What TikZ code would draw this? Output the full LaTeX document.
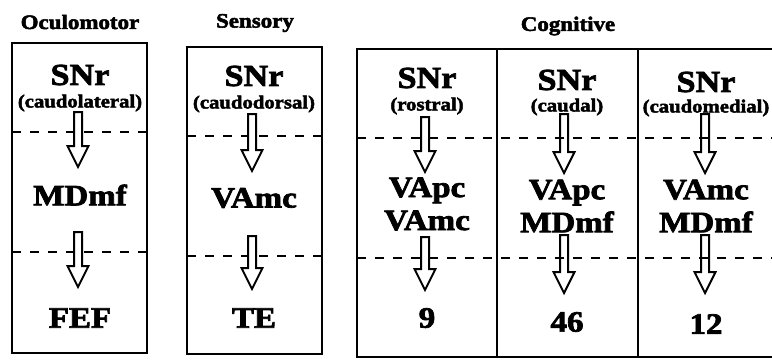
\documentclass[tikz,border=0pt]{standalone}
\usepackage{fontspec}
\setmainfont{Liberation Serif}[FakeStretch=1.12, BoldFeatures={FakeBold=2.5}]
\usetikzlibrary{calc}
\tikzset{
  frame/.style={line width=2.6pt},
  divider/.style={line width=2.2pt},
  sepline/.style={dash pattern=on 9pt off 9pt, line width=1.8pt},
  title/.style={font=\bfseries\fontsize{20.5}{22}\selectfont, inner sep=0},
  snr/.style={font=\bfseries\fontsize{30.5}{32}\selectfont, inner sep=0},
  sub/.style={font=\bfseries\fontsize{18.5}{20}\selectfont, inner sep=0},
  region/.style={font=\bfseries\fontsize{29.5}{33}\selectfont, align=center, inner sep=0},
  hollow/.style={line width=2pt, fill=white, line join=miter},
}
\newcommand\blockarrow[2]{%
  \draw[hollow] ($(#1)+(-4,0)$) -- ($(#2)+(-4,-21)$) -- ($(#2)+(-10.5,-21)$) -- (#2)
    -- ($(#2)+(10.5,-21)$) -- ($(#2)+(4,-21)$) -- ($(#1)+(4,0)$) -- cycle;}
\begin{document}
\begin{tikzpicture}[x=1pt,y=-1pt]
\useasboundingbox[fill=white] (0,0) rectangle (772,360);

% titles
\node[title] (t1) at (80,22) {Oculomotor};
\node[title] (t2) at (255,23) {Sensory};
\node[title] (t3) at (568,26) {Cognitive};

% frames
\draw[frame] (12,43) rectangle (147,353);
\draw[frame] (187,47) rectangle (322,354);
\draw[frame] (357,49) rectangle (790,357);
\draw[divider] (497,49) -- (497,357);
\draw[divider] (638,49) -- (638,357);

% arrow coordinates
\coordinate (a1s) at (78,112);  \coordinate (a1e) at (78,167);
\coordinate (a2s) at (78,232);  \coordinate (a2e) at (78,287);
\coordinate (b1s) at (252,114); \coordinate (b1e) at (252,171);
\coordinate (b2s) at (252,236); \coordinate (b2e) at (252,289);
\coordinate (c1s) at (425,117); \coordinate (c1e) at (425,172);
\coordinate (c2s) at (425,237); \coordinate (c2e) at (425,290);
\coordinate (d1s) at (564,114); \coordinate (d1e) at (564,173);
\coordinate (d2s) at (564,235); \coordinate (d2e) at (564,293);
\coordinate (e1s) at (705,114); \coordinate (e1e) at (705,173);
\coordinate (e2s) at (705,235); \coordinate (e2e) at (705,293);

% cognitive arrows crossed by the dashed lines
\blockarrow{d1s}{d1e}
\blockarrow{d2s}{d2e}
\blockarrow{e1s}{e1e}
\blockarrow{e2s}{e2e}

% dashed separators
\draw[sepline] (12,132) -- (147,132);
\draw[sepline] (12,252) -- (147,252);
\draw[sepline] (187,136) -- (322,136);
\draw[sepline] (187,256) -- (322,256);
\draw[sepline] (357,138) -- (772,138);
\draw[sepline] (357,258) -- (772,258);

\blockarrow{a1s}{a1e}
\blockarrow{a2s}{a2e}
\blockarrow{b1s}{b1e}
\blockarrow{b2s}{b2e}
\blockarrow{c1s}{c1e}
\blockarrow{c2s}{c2e}

% Oculomotor
\node[snr] (s1) at (80,75) {SNr};
\node[sub] (q1) at (80,103) {(caudolateral)};
\node[region] (m1) at (80,195) {MDmf};
\node[region] (f1) at (80,318) {FEF};

% Sensory
\node[snr] (s2) at (254,76) {SNr};
\node[sub] (q2) at (254,104) {(caudodorsal)};
\node[region] (m2) at (254,198) {VAmc};
\node[region] (f2) at (254,318) {TE};

% Cognitive 1
\node[snr] (s3) at (427,78) {SNr};
\node[sub] (q3) at (427,106) {(rostral)};
\node[region] (m3) at (427,204) {VApc\\VAmc};
\node[region] (f3) at (427,318) {9};

% Cognitive 2
\node[snr] (s4) at (567,80) {SNr};
\node[sub] (q4) at (567,107) {(caudal)};
\node[region] (m4) at (567,206) {VApc\\MDmf};
\node[region] (f4) at (567,322) {46};

% Cognitive 3
\node[snr] (s5) at (706,82) {SNr};
\node[sub] (q5) at (706,108) {(caudomedial)};
\node[region] (m5) at (706,206) {VAmc\\MDmf};
\node[region] (f5) at (706,324) {12};
\end{tikzpicture}
\end{document}
